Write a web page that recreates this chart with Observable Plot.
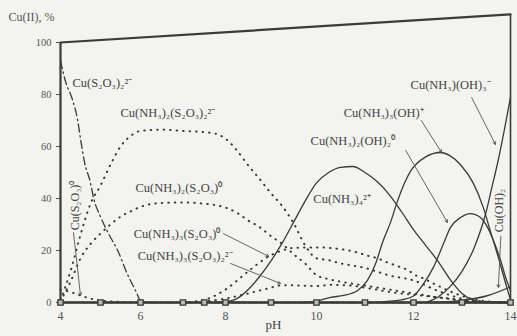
<!DOCTYPE html>
<html><head><meta charset="utf-8">
<script src="https://cdn.jsdelivr.net/npm/d3@7"></script>
<script src="https://cdn.jsdelivr.net/npm/@observablehq/plot@0.6"></script>
<style>
html,body{margin:0;padding:0;background:#f3f3f0;}
#chart{width:517px;height:336px;overflow:hidden;}
</style></head><body><div id="chart"></div>
<script>
// ---- axis ticks ----
const xTicks = [4, 6, 8, 10, 12, 14];
const yTicks = [0, 20, 40, 60, 80, 100];

// ---- frame (scanned figure, slanted top edge) ----
const frameX = [4, 14];
const frameTop = [100, 110.8];

// ---- species (pH, %) ----
const cuS2O32_pH = [4.0, 4.125, 4.3, 4.43, 4.5, 4.6, 4.75, 4.83, 5.0, 5.2, 5.43, 5.67, 5.875, 6.0, 6.2, 14];
const cuS2O32_v  = [93, 85, 78, 70, 63, 54, 46, 40, 33, 26.5, 20, 11, 4.6, 0.8, 0, 0];

const cuS2O3_pH = [4.0, 4.25, 4.5, 4.75, 5.0, 5.5, 6.0];
const cuS2O3_v  = [5, 4, 2.7, 1.5, 0.8, 0.2, 0];

const a2t2_pH = [4.0, 4.25, 4.5, 4.75, 5.0, 5.25, 5.5, 5.75, 6.0, 6.5, 7.0, 7.5, 7.75, 8.0, 8.25, 8.5, 8.75, 9.0, 9.25, 9.5, 9.75, 10.0, 10.25, 10.5, 10.75, 11.0, 11.5, 12.0, 12.5, 13.0, 13.5, 14.0];
const a2t2_v  = [1, 12, 26, 38, 45, 53, 60, 64, 66, 66.5, 66, 65.5, 65, 63, 58.5, 52.7, 47.5, 42, 37, 30.4, 22, 17, 16.3, 15, 14.2, 13.3, 10.4, 8.5, 4.5, 1.5, 0.3, 0];

const a2t1_pH = [4.0, 4.25, 4.5, 4.75, 5.0, 5.25, 5.5, 5.75, 6.0, 6.5, 7.0, 7.5, 7.75, 8.0, 8.25, 8.5, 8.75, 9.0, 9.25, 9.5, 9.75, 10.0, 10.25, 10.5, 11.0, 11.5, 12.0, 12.5, 13.0, 13.5, 14.0];
const a2t1_v  = [0.5, 8, 17, 22.5, 26.5, 30, 33, 35, 36.8, 38.3, 38.5, 38, 37.5, 36.5, 34.5, 31.5, 29, 25.5, 22.5, 18.5, 15, 10.5, 9, 8, 6.5, 5, 3.5, 2, 0.8, 0.2, 0];

const a3t1_pH = [7.0, 7.5, 8.0, 8.5, 8.95, 9.25, 9.5, 10.0, 10.5, 10.85, 11.05, 11.26, 11.46, 11.67, 11.88, 12.04, 12.2, 12.5, 13.0, 13.5, 14.0];
const a3t1_v  = [0, 1, 5, 12, 17.7, 20, 21, 21.2, 20.5, 19.2, 18, 17, 15.4, 14, 12.5, 10.5, 9.3, 6.5, 2.5, 0.5, 0];

const a3t2_pH = [7.0, 7.5, 8.0, 8.5, 9.0, 9.21, 9.5, 10.0, 10.3, 10.7, 11.1, 11.6, 12.0, 12.5, 13.0, 13.5, 14.0];
const a3t2_v  = [0, 0.5, 1.5, 3.5, 5.7, 6.6, 6.6, 6.3, 6.8, 6.5, 5.4, 3.8, 3, 2, 1, 0.3, 0];

const a4_pH = [7.75, 8.0, 8.25, 8.5, 8.75, 9.0, 9.25, 9.5, 9.75, 10.0, 10.25, 10.5, 10.75, 11.0, 11.25, 11.5, 11.75, 12.0, 12.25, 12.5, 12.75, 13.0, 13.25, 13.5, 14.0];
const a4_v  = [0, 0.3, 1.5, 5, 10, 16, 23, 31, 39, 46, 50, 52, 52.3, 50, 46.5, 41.5, 35, 28, 22, 16, 9, 3.5, 0.8, 0, 0];

const a3oh_pH = [9.75, 10.0, 10.29, 10.56, 10.85, 11.05, 11.22, 11.36, 11.53, 11.67, 11.94, 12.25, 12.55, 12.75, 12.97, 13.23, 13.44, 13.6, 13.77, 13.9, 14.0];
const a3oh_v  = [0, 0.5, 2, 2.7, 4.6, 8.5, 15, 23, 31, 39, 50.5, 56, 57.7, 56.5, 53, 46, 36.5, 26.5, 16, 7.3, 1];

const a2oh2_pH = [11.25, 11.5, 11.75, 12.0, 12.2, 12.41, 12.62, 12.76, 12.97, 13.17, 13.38, 13.53, 13.65, 13.8, 13.9, 14.0];
const a2oh2_v  = [0, 0.5, 1, 2.5, 7, 13.5, 22.7, 28.8, 32.7, 34.2, 32.7, 28.8, 23.8, 16, 9.6, 4.6];

const a1oh3_pH = [12.25, 12.5, 12.75, 13.0, 13.25, 13.5, 13.6, 13.75, 13.9, 14.0];
const a1oh3_v  = [0, 2, 6, 12, 21, 35, 43, 55, 69, 79];

const cuOH2_pH = [12.5, 13.0, 13.5, 14.0];
const cuOH2_v  = [0, 0.8, 2.5, 6];

const base_pH = [4, 5, 6, 7, 7.5, 8, 9, 10, 11, 12, 13, 14];
const base_v  = [0, 0, 0, 0, 0, 0, 0, 0, 0, 0, 0, 0];

// ---- labels ----
const labelText = ["Cu(S₂O₃)₂²⁻", "Cu(NH₃)₂(S₂O₃)₂²⁻", "Cu(NH₃)₂(S₂O₃)⁰", "Cu(NH₃)₃(S₂O₃)⁰", "Cu(NH₃)₃(S₂O₃)₂²⁻", "Cu(NH₃)₄²⁺", "Cu(NH₃)₂(OH)₂⁰", "Cu(NH₃)₃(OH)⁺", "Cu(NH₃)(OH)₃⁻"];
const labelPH   = [4.3, 5.5, 5.875, 5.83, 5.93, 9.93, 9.87, 10.56, 11.94];
const labelPct  = [84.6, 72.7, 44.2, 26.5, 17.7, 40, 62.3, 73, 83.8];
const vLabelText = ["Cu(S₂O₃)⁰", "Cu(OH)₂"];
const vLabelPH   = [4.375, 13.77];
const vLabelPct  = [37.3, 35.4];

// leader arrows: from -> to
const arrowFromPH  = [4.325, 7.95, 8.11, 11.84, 12.16, 13.2, 13.8];
const arrowFromPct = [26.9, 26.5, 15, 58.5, 70, 78.8, 25.5];
const arrowToPH    = [4.5, 8.95, 9.21, 12.7, 12.58, 13.69, 13.75];
const arrowToPct   = [2.7, 17.7, 7.3, 30.8, 57.7, 60.8, 5.8];

// ---- build ----
// the scanned figure's pH axis is slightly non-uniform: place each pH where the printed axis has it
const warp = d3.scaleLinear().domain(xTicks).range([4, 5.778, 7.667, 9.689, 11.844, 14]);
const zip = (xs, ys) => xs.map((x, i) => ({pH: warp(x), v: ys[i]}));
const ink = "#3a3a38";
const solid = {stroke: ink, strokeWidth: 1.3, curve: "monotone-x"};
const dotted = {stroke: ink, strokeWidth: 2, strokeDasharray: "0.5,6", strokeLinecap: "round", curve: "monotone-x"};

const labels = labelText.map((t, i) => ({t, x: warp(labelPH[i]), y: labelPct[i]}));
const vlabels = vLabelText.map((t, i) => ({t, x: warp(vLabelPH[i]), y: vLabelPct[i]}));
const arrows = arrowFromPH.map((x, i) => ({x1: warp(x), y1: arrowFromPct[i], x2: warp(arrowToPH[i]), y2: arrowToPct[i]}));

const chart = Plot.plot({
  width: 517, height: 336,
  marginLeft: 60, marginRight: 7, marginTop: 42, marginBottom: 34,
  style: {background: "transparent", fontFamily: "'Liberation Serif','Times New Roman',serif", fontSize: "10.5px", color: "#555"},
  x: {domain: [4, 14], label: null},
  y: {domain: [0, 100], label: null},
  marks: [
    Plot.axisX(xTicks.map(warp), {tickFormat: d => String(Math.round(warp.invert(d))), tickSize: 4, tickPadding: 5, fontSize: 12, label: null}),
    Plot.axisY(yTicks, {tickSize: 4, tickPadding: 5, fontSize: 10.5, label: null}),
    Plot.ruleX([warp(frameX[0])], {y1: 0, y2: frameTop[0], stroke: ink, strokeWidth: 2.2}),
    Plot.ruleX([warp(frameX[1])], {y1: 0, y2: frameTop[1], stroke: ink, strokeWidth: 1.6}),
    Plot.line(zip(frameX, frameTop), {x: "pH", y: "v", stroke: ink, strokeWidth: 2.2}),
    Plot.line(zip(cuS2O32_pH, cuS2O32_v), {x: "pH", y: "v", stroke: ink, strokeWidth: 1.3, strokeDasharray: "8,3.5,1.5,3.5", curve: "monotone-x"}),
    Plot.line(zip(cuS2O3_pH, cuS2O3_v), {x: "pH", y: "v", ...dotted}),
    Plot.line(zip(a2t2_pH, a2t2_v), {x: "pH", y: "v", ...dotted}),
    Plot.line(zip(a2t1_pH, a2t1_v), {x: "pH", y: "v", ...dotted}),
    Plot.line(zip(a3t1_pH, a3t1_v), {x: "pH", y: "v", ...dotted}),
    Plot.line(zip(a3t2_pH, a3t2_v), {x: "pH", y: "v", ...dotted}),
    Plot.line(zip(a4_pH, a4_v), {x: "pH", y: "v", ...solid}),
    Plot.line(zip(a3oh_pH, a3oh_v), {x: "pH", y: "v", ...solid}),
    Plot.line(zip(a2oh2_pH, a2oh2_v), {x: "pH", y: "v", ...solid}),
    Plot.line(zip(a1oh3_pH, a1oh3_v), {x: "pH", y: "v", ...solid}),
    Plot.line(zip(cuOH2_pH, cuOH2_v), {x: "pH", y: "v", ...solid}),
    Plot.ruleY([0], {stroke: ink, strokeWidth: 2.6}),
    Plot.line(zip(base_pH, base_v), {x: "pH", y: "v", stroke: ink, strokeWidth: 1.5}),
    Plot.dot(zip(base_pH, base_v), {x: "pH", y: "v", symbol: "square", r: 3, stroke: ink, strokeWidth: 1.4, fill: "#bdbdb8"}),
    Plot.arrow(arrows, {x1: "x1", y1: "y1", x2: "x2", y2: "y2", stroke: "#555", strokeWidth: 0.9, headLength: 5}),
    Plot.text(labels, {x: "x", y: "y", text: "t", textAnchor: "start", fontSize: 12.5, fill: "#444"}),
    Plot.text(vlabels, {x: "x", y: "y", text: "t", textAnchor: "middle", rotate: -90, fontSize: 12, fill: "#444"}),
    Plot.text(["Cu(II), %"], {frameAnchor: "top-left", dx: -52, dy: -30, textAnchor: "start", fontSize: 12, fill: "#555"}),
    Plot.text(["pH"], {frameAnchor: "bottom", dx: -12, dy: 26, fontSize: 13, fill: "#444"})
  ]
});
document.getElementById("chart").append(chart);
</script></body></html>
